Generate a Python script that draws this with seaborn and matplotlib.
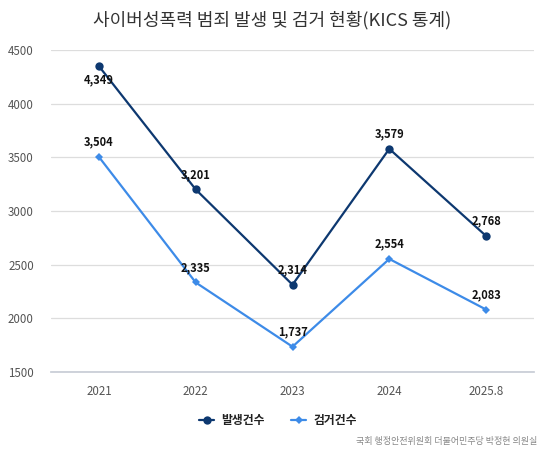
import matplotlib
matplotlib.use("Agg")
import matplotlib.pyplot as plt
import seaborn as sns
import pandas as pd

categories = ["2021", "2022", "2023", "2024", "2025.8"]
occurred = [4349, 3201, 2314, 3579, 2768]
arrested = [3504, 2335, 1737, 2554, 2083]
series_names = ["발생건수", "검거건수"]

sns.set_theme(style="white")
plt.rcParams['font.family'] = ['Noto Sans CJK KR', 'DejaVu Sans']

df = pd.DataFrame({
    "year": categories * 2,
    "value": occurred + arrested,
    "series": [series_names[0]] * 5 + [series_names[1]] * 5,
})

c_dark = "#0D3870"
c_blue = "#3D8BE8"

fig = plt.figure(figsize=(5.45, 4.5), dpi=100)
ax = fig.add_axes([0.0927, 0.173, 0.888, 0.716])

sns.lineplot(data=df, x="year", y="value", hue="series", style="series",
             markers={series_names[0]: "o", series_names[1]: "D"},
             dashes=False, palette={series_names[0]: c_dark, series_names[1]: c_blue},
             linewidth=1.6, markersize=6, markeredgewidth=0, ax=ax, sort=False)
for l in ax.lines:
    if l.get_color() == c_blue:
        l.set_markersize(4.5)

ax.set_xlim(-0.5, 4.5)
ax.set_ylim(1500, 4500)
ax.set_yticks([1500, 2000, 2500, 3000, 3500, 4000, 4500])
ax.yaxis.grid(True, color="#DDDDDD", linewidth=0.9)
ax.set_xlabel("")
ax.set_ylabel("")
for s in ["top", "right", "left"]:
    ax.spines[s].set_visible(False)
ax.spines["bottom"].set_color("#C8CDD6")
ax.tick_params(axis="both", length=0, colors="#555555", labelsize=8.3)
ax.tick_params(axis="y", pad=12)
ax.tick_params(axis="x", pad=9)

for i, v in enumerate(occurred):
    if i == 0:
        ax.annotate(f"{v:,}", (i, v), xytext=(0, -5), textcoords="offset points",
                    ha="center", va="top", fontsize=8, fontweight="bold", color="#111111")
    else:
        ax.annotate(f"{v:,}", (i, v), xytext=(0, 6), textcoords="offset points",
                    ha="center", va="bottom", fontsize=8, fontweight="bold", color="#111111")
for i, v in enumerate(arrested):
    ax.annotate(f"{v:,}", (i, v), xytext=(0, 6), textcoords="offset points",
                ha="center", va="bottom", fontsize=8, fontweight="bold", color="#111111")

leg = ax.legend(loc="center", bbox_to_anchor=(0.47, -0.15), ncol=2, frameon=False,
                fontsize=8.5, handlelength=1.3, columnspacing=2.2, handletextpad=0.6)
for t in leg.get_texts():
    t.set_fontweight("bold")
    t.set_color("#222222")

fig.text(0.5, 0.955, "사이버성폭력 범죄 발생 및 검거 현황(KICS 통계)", ha="center", va="center",
         fontsize=13, color="#333333")
fig.text(0.985, 0.008, "국회 행정안전위원회 더불어민주당 박정현 의원실", ha="right", va="bottom",
         fontsize=6.5, color="#888888")

fig.savefig("out.png", dpi=100)
